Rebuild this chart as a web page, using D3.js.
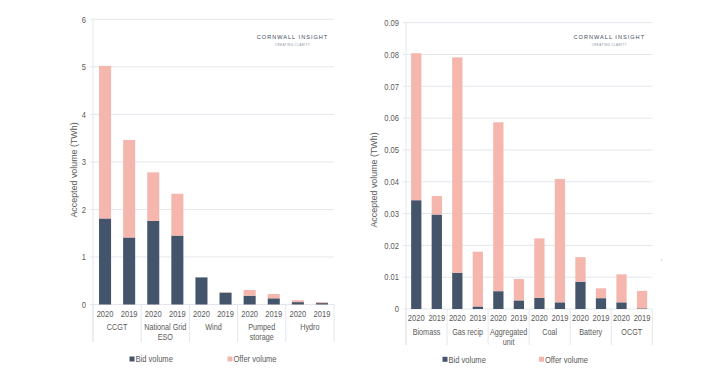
<!DOCTYPE html>
<html><head><meta charset="utf-8">
<script src="https://cdn.jsdelivr.net/npm/d3@7"></script>
<style>
body{margin:0;background:#fff;}
svg text{font-family:"Liberation Sans",Arial,sans-serif;fill:#595959;}
</style></head>
<body><svg id="c" width="708" height="378"></svg>
<script>
const years = ["2020", "2019"];
const leftCategories = ["CCGT", "National Grid|ESO", "Wind", "Pumped|storage", "Hydro"];
const leftBid   = [1.81, 1.41, 1.76, 1.45, 0.57, 0.25, 0.185, 0.13, 0.05, 0.03];
const leftOffer = [3.21, 2.05, 1.02, 0.88, 0.0, 0.01, 0.12, 0.09, 0.038, 0.02];
const leftTicks = [0, 1, 2, 3, 4, 5, 6];
const leftTickLabels = ["0", "1", "2", "3", "4", "5", "6"];

const rightCategories = ["Biomass", "Gas recip", "Aggregated|unit", "Coal", "Battery", "OCGT"];
const rightBid   = [0.0342, 0.0297, 0.0114, 0.0008, 0.0056, 0.0027, 0.0035, 0.0021, 0.0086, 0.0034, 0.0021, 0.0002];
const rightOffer = [0.0462, 0.0058, 0.0677, 0.0172, 0.0531, 0.0067, 0.0187, 0.0388, 0.0077, 0.0031, 0.0088, 0.0055];
const rightTicks = [0, 0.01, 0.02, 0.03, 0.04, 0.05, 0.06, 0.07, 0.08, 0.09];
const rightTickLabels = ["0", "0.01", "0.02", "0.03", "0.04", "0.05", "0.06", "0.07", "0.08", "0.09"];

const seriesNames = ["Bid volume", "Offer volume"];
const yTitle = "Accepted volume (TWh)";
const logoTitle = "CORNWALL INSIGHT";
const logoSub = "CREATING CLARITY";

const BID = "#44546a", OFFER = "#f4b6ad", GRID = "#e3e7ec";
const SX = 0.84, FS = 9;
const svg = d3.select("#c");

function label(g, x, y, anchor, txt, fs) {
  return g.append("text").attr("transform", `translate(${x},${y}) scale(${SX},1)`)
    .attr("text-anchor", anchor).attr("font-size", fs || FS).text(txt);
}

function drawPanel(o) {
  const g = svg.append("g");
  const keys = [];
  o.categories.forEach((c, ci) => years.forEach((y) => keys.push(ci + "_" + y)));
  const x = d3.scaleBand().domain(keys).range([o.x0, o.x1]).paddingInner(0.5).paddingOuter(0.25);
  const y = d3.scaleLinear().domain([0, o.ticks[o.ticks.length - 1]]).range([o.yBase, o.yTop]);

  g.selectAll("line.grid").data(o.ticks).join("line")
    .attr("x1", o.x0 - 3).attr("x2", o.x1)
    .attr("y1", d => y(d)).attr("y2", d => y(d))
    .attr("stroke", GRID).attr("stroke-width", 1);
  g.append("line").attr("x1", o.x0).attr("x2", o.x0).attr("y1", y(o.ticks[o.ticks.length-1])).attr("y2", o.sepBottom)
    .attr("stroke", GRID);
  o.ticks.forEach((t, i) => label(g, o.x0 - 7, y(t) + 3.2, "end", o.tickLabels[i]));

  const rows = keys.map((k, i) => ({key: k, bid: o.bid[i], offer: o.offer[i]}));
  const stack = d3.stack().keys(["bid", "offer"])(rows);
  const colors = [BID, OFFER];
  stack.forEach((s, si) => {
    g.selectAll("rect.s" + si).data(s).join("rect")
      .attr("x", d => x(d.data.key)).attr("width", x.bandwidth())
      .attr("y", d => y(d[1])).attr("height", d => Math.max(0, y(d[0]) - y(d[1])))
      .attr("fill", colors[si]);
  });

  const step = (o.x1 - o.x0) / o.categories.length;
  d3.range(o.categories.length + 1).forEach(i => {
    g.append("line").attr("x1", o.x0 + i * step).attr("x2", o.x0 + i * step)
      .attr("y1", o.yBase).attr("y2", o.sepBottom).attr("stroke", GRID);
  });
  keys.forEach(k => label(g, x(k) + x.bandwidth() / 2, o.yearY, "middle", k.split("_")[1]));
  o.categories.forEach((c, i) => {
    const t = g.append("text").attr("transform", `translate(${o.x0 + (i + 0.5) * step},${o.catY}) scale(${SX},1)`)
      .attr("text-anchor", "middle").attr("font-size", 8.6);
    c.split("|").forEach((l, li) => t.append("tspan").attr("x", 0).attr("dy", li ? 9.9 : 0).text(l));
  });
  g.append("text").attr("transform", `translate(${o.titleX},${o.titleY}) rotate(-90)`)
    .attr("text-anchor", "middle").attr("font-size", 8.9).text(yTitle);
  g.append("text").attr("x", o.logoX).attr("y", 39.3).attr("text-anchor", "middle")
    .attr("font-size", 5.6).attr("letter-spacing", 1.0).style("fill", "#3d4a5c").text(logoTitle);
  g.append("text").attr("x", o.logoX).attr("y", 46.4).attr("text-anchor", "middle")
    .attr("font-size", 3).attr("letter-spacing", 0.4).style("fill", "#8a94a0").text(logoSub);
  o.legend.forEach((lx, i) => {
    g.append("rect").attr("x", lx).attr("y", o.legendY - 2.5).attr("width", 5).attr("height", 5).attr("fill", colors[i]);
    label(g, lx + 6, o.legendY + 3.2, "start", seriesNames[i]);
  });
}

drawPanel({categories: leftCategories, bid: leftBid, offer: leftOffer, ticks: leftTicks, tickLabels: leftTickLabels,
  x0: 93, x1: 334, yBase: 304.5, yTop: 19.3, sepBottom: 342, yearY: 317, catY: 330.2, titleX: 77, titleY: 170,
  logoX: 292.5, legend: [129.5, 227.5], legendY: 359});
drawPanel({categories: rightCategories, bid: rightBid, offer: rightOffer, ticks: rightTicks, tickLabels: rightTickLabels,
  x0: 406, x1: 652.3, yBase: 309, yTop: 22.7, sepBottom: 345, yearY: 321.2, catY: 334.9, titleX: 377, titleY: 180,
  logoX: 609.3, legend: [442.5, 539], legendY: 359.3});
svg.append("circle").attr("cx", 661.7).attr("cy", 260).attr("r", 0.6).attr("fill", "#999");
</script></body></html>
